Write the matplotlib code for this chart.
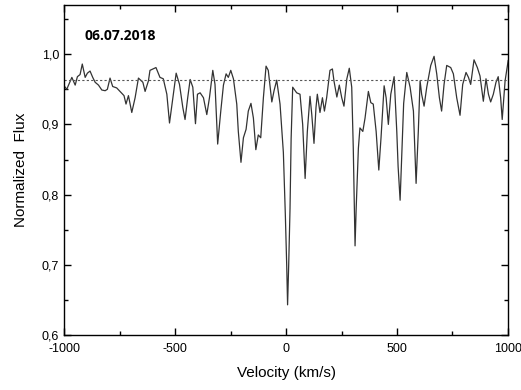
import matplotlib.pyplot as plt
from matplotlib.ticker import MultipleLocator, FuncFormatter

# Spectrum (velocity in km/s, normalized flux)
velocity = [-1000, -988, -965, -950, -940, -928, -918, -905, -895, -883,
            -871, -860, -845, -830, -815, -805, -793, -781, -763, -748,
            -730, -721, -710, -695, -680, -665, -645, -635, -620, -613,
            -586, -568, -553, -537, -525, -510, -495, -480, -465, -455,
            -443, -432, -420, -408, -399, -387, -372, -357, -345, -330,
            -320, -308, -294, -282, -270, -260, -249, -237, -222, -215,
            -203, -192, -180, -170, -158, -147, -136, -125, -114, -102,
            -90, -80, -64, -54, -42, -27, -12, -3, 3, 7,
            12, 18, 23, 30, 48, 63, 75, 86, 96, 108,
            116, 126, 135, 141, 153, 164, 173, 183, 198, 209,
            216, 229, 240, 251, 261, 274, 285, 296, 303, 308,
            311, 316, 326, 333, 346, 356, 371, 382, 393, 406,
            418, 428, 442, 451, 461, 472, 487, 499, 505, 514,
            521, 530, 544, 559, 574, 586, 596, 604, 611, 622,
            634, 652, 667, 679, 691, 701, 712, 724, 742, 754,
            769, 784, 796, 811, 822, 832, 847, 862, 874, 889,
            901, 912, 922, 934, 946, 956, 967, 974, 987, 1001]
flux = [0.955, 0.950, 0.967, 0.956, 0.968, 0.971, 0.986, 0.967, 0.973, 0.976,
        0.967, 0.960, 0.956, 0.949, 0.948, 0.950, 0.966, 0.954, 0.952, 0.947,
        0.941, 0.929, 0.941, 0.917, 0.938, 0.966, 0.960, 0.947, 0.962, 0.977,
        0.981, 0.967, 0.965, 0.943, 0.902, 0.938, 0.973, 0.957, 0.924, 0.907,
        0.938, 0.964, 0.953, 0.901, 0.943, 0.945, 0.938, 0.914, 0.938, 0.977,
        0.957, 0.872, 0.919, 0.956, 0.972, 0.967, 0.977, 0.965, 0.929, 0.890,
        0.846, 0.881, 0.893, 0.919, 0.930, 0.909, 0.864, 0.885, 0.881, 0.938,
        0.983, 0.977, 0.932, 0.948, 0.963, 0.929, 0.860, 0.770, 0.700, 0.643,
        0.700, 0.780, 0.880, 0.953, 0.945, 0.943, 0.900, 0.823, 0.890, 0.940,
        0.914, 0.873, 0.924, 0.943, 0.917, 0.938, 0.919, 0.938, 0.977, 0.979,
        0.962, 0.939, 0.956, 0.938, 0.926, 0.965, 0.980, 0.953, 0.866, 0.780,
        0.727, 0.780, 0.866, 0.895, 0.890, 0.909, 0.947, 0.931, 0.929, 0.890,
        0.835, 0.881, 0.955, 0.938, 0.900, 0.943, 0.968, 0.890, 0.840, 0.792,
        0.852, 0.930, 0.974, 0.953, 0.919, 0.816, 0.890, 0.962, 0.943, 0.926,
        0.953, 0.984, 0.997, 0.972, 0.938, 0.919, 0.957, 0.984, 0.981, 0.972,
        0.938, 0.913, 0.957, 0.974, 0.967, 0.957, 0.992, 0.981, 0.969, 0.933,
        0.965, 0.943, 0.932, 0.943, 0.960, 0.968, 0.938, 0.907, 0.962, 0.991]
continuum = 0.963
date_label = "06.07.2018"

plt.rcParams['font.family'] = ['Liberation Sans', 'DejaVu Sans']
plt.rcParams['axes.unicode_minus'] = False

fig = plt.figure(figsize=(5.21, 3.90), dpi=100)
ax = fig.add_axes([0.123, 0.141, 0.852, 0.846])

ax.plot(velocity, flux, color="#333333", linewidth=0.9)
ax.axhline(continuum, color="#555555", linestyle=(0, (2, 2)), linewidth=0.8)

ax.set_xlim(-1000, 1000)
ax.set_ylim(0.6, 1.07)
ax.xaxis.set_major_locator(MultipleLocator(500))
ax.xaxis.set_minor_locator(MultipleLocator(250))
ax.yaxis.set_major_locator(MultipleLocator(0.1))
ax.yaxis.set_minor_locator(MultipleLocator(0.05))
ax.yaxis.set_major_formatter(FuncFormatter(lambda v, p: f"{v:.1f}".replace(".", ",")))

ax.tick_params(which="both", direction="in", top=True, right=True, labelsize=9, width=1)
ax.tick_params(which="major", length=5)
ax.tick_params(axis="x", which="major", pad=6)
ax.tick_params(which="minor", length=3)
for s in ax.spines.values():
    s.set_linewidth(1)

ax.set_xlabel("Velocity (km/s)", fontsize=11, labelpad=8)
ax.set_ylabel("Normalized  Flux", fontsize=11, labelpad=10)

ax.text(0.047, 0.905, date_label, transform=ax.transAxes, fontsize=10,
        fontweight="bold", family=["Open Sans", "DejaVu Sans"], va="center")

plt.savefig("out.png", dpi=100)
